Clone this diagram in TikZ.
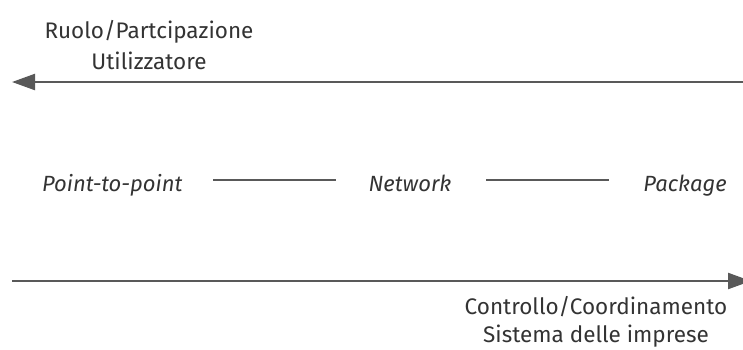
\documentclass[tikz,border=0pt]{standalone}
\usepackage{fontspec}
\setmainfont{Fira Sans}
\usetikzlibrary{arrows.meta}
\definecolor{txt}{HTML}{333333}
\definecolor{ln}{HTML}{595959}
\begin{document}
\begin{tikzpicture}[x=1pt,y=-1pt,
  lab/.style={text=txt,align=center,inner sep=0pt,anchor=base},
  term/.style={text=txt,font=\fontsize{22}{26}\selectfont\itshape,inner sep=0pt},
  axis/.style={draw=ln,line width=2.3pt,-{Triangle[length=23pt,width=16pt]}},
  link/.style={draw=ln,line width=2pt}]
\useasboundingbox (0,0) rectangle (743,349);
\coordinate (tr) at (743,82);
\coordinate (tl) at (12,82);
\coordinate (bl) at (12,281);
\coordinate (br) at (751,281);
\draw[axis] (tr) -- (tl);
\draw[axis] (bl) -- (br);
\node[lab,font=\fontsize{22.5}{31}\selectfont] (top) at (149,69) {Ruolo/Partcipazione\\Utilizzatore};
\node[lab,font=\fontsize{22.5}{28}\selectfont] (bot) at (596,342.5) {Controllo/Coordinamento\\Sistema delle imprese};
\node[term,anchor=base west] (p2p) at (42,191.5) {Point-to-point};
\node[term,anchor=base] (net) at (410,191.5) {Network};
\node[term,anchor=base east] (pkg) at (727,191.5) {Package};
\coordinate (a1) at (213,179.5);
\coordinate (a2) at (336,179.5);
\coordinate (b1) at (486,179.5);
\coordinate (b2) at (609,179.5);
\draw[link] (a1) -- (a2);
\draw[link] (b1) -- (b2);
\end{tikzpicture}
\end{document}
